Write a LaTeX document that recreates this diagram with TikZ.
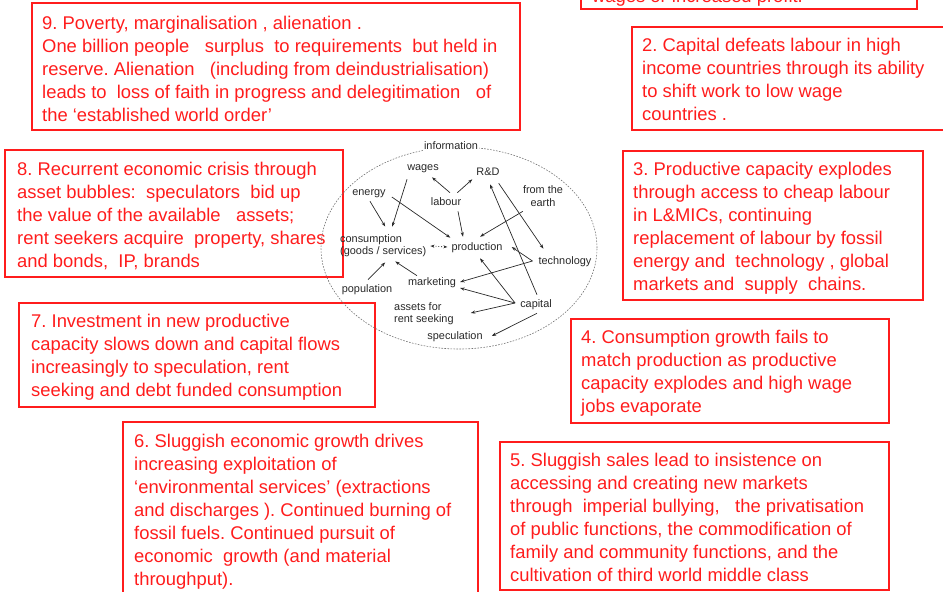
\documentclass[tikz,border=0pt]{standalone}
\usepackage{fontspec}
\setmainfont{Liberation Sans}
\usetikzlibrary{arrows.meta,calc}
\frenchspacing
\definecolor{boxred}{RGB}{255,28,28}
\definecolor{ink}{RGB}{40,40,40}
\tikzset{
  redbox/.style={draw=boxred, line width=1.3pt},
  boxtxt/.style={anchor=north west, inner sep=0pt, text=boxred, align=left,
    font=\fontsize{18.4}{23.1}\selectfont},
  lbl/.style={inner sep=1pt, text=ink, font=\fontsize{10.9}{12.3}\selectfont,
    text height=7.9pt, text depth=2.3pt},
  lbltwo/.style={inner sep=1pt, text=ink, font=\fontsize{10.9}{12.3}\selectfont},
  arr/.style={draw=ink, line width=0.7pt, -{Stealth[length=4.5pt,width=3.2pt]}},
  dotarr/.style={draw=ink, line width=0.8pt, dotted,
    {Stealth[length=4pt,width=3pt]}-{Stealth[length=4pt,width=3pt]}},
  ring/.style={draw=black!55, line width=0.6pt, dash pattern=on 1.6pt off 1.4pt},
}
\newcommand{\fl}{\rule{0pt}{13.4pt}}
\begin{document}
\begin{tikzpicture}[x=1pt,y=-1pt]
\useasboundingbox (0,0) rectangle (943,592);
\clip (0,0) rectangle (943,592);

% ---- red boxes ----
\draw[redbox] (581,-50) rectangle (917,9);
\draw[redbox] (32,3) rectangle (520,130);
\draw[redbox] (632,27) rectangle (960,130);
\draw[redbox] (623,151) rectangle (923,300);
\draw[redbox] (5,150) rectangle (343,277);
\draw[redbox] (19,303) rectangle (375,407);
\draw[redbox] (571,319) rectangle (889,423);
\draw[redbox] (123,422) rectangle (478,620);
\draw[redbox] (500,442) rectangle (889,590);

% ---- box texts ----
\node[boxtxt] (t1) at (592,-11.4) {\fl wages or increased profit.};
\node[boxtxt] (t9) at (42,15.6) {\fl 9. Poverty, marginalisation , alienation .\\
One billion people \ \ surplus \ to requirements \ but held in\\
reserve. Alienation \ \ (including from deindustrialisation)\\
leads to \ loss of faith in progress and delegitimation \ \ of\\
the ‘established world order’};
\node[boxtxt] (t2) at (642,37.6) {\fl 2. Capital defeats labour in high\\
income countries through its ability\\
to shift work to low wage\\
countries .};
\node[boxtxt] (t3) at (633,161.6) {\fl 3. Productive capacity explodes\\
through access to cheap labour\\
in L\&MICs, continuing\\
replacement of labour by fossil\\
energy and \ technology , global\\
markets and \ supply \ chains.};
\node[boxtxt] (t8) at (17,161.6) {\fl 8. Recurrent economic crisis through\\
asset bubbles: \ speculators \ bid up\\
the value of the available \ \ assets;\\
rent seekers acquire \ property, shares\\
and bonds, \ IP, brands};
\node[boxtxt] (t7) at (31,313.6) {\fl 7. Investment in new productive\\
capacity slows down and capital flows\\
increasingly to speculation, rent\\
seeking and debt funded consumption};
\node[boxtxt] (t4) at (581,329.6) {\fl 4. Consumption growth fails to\\
match production as productive\\
capacity explodes and high wage\\
jobs evaporate};
\node[boxtxt] (t6) at (134,433.6) {\fl 6. Sluggish economic growth drives\\
increasing exploitation of\\
‘environmental services’ (extractions\\
and discharges ). Continued burning of\\
fossil fuels. Continued pursuit of\\
economic \ growth (and material\\
throughput).};
\node[boxtxt] (t5) at (510,452.6) {\fl 5. Sluggish sales lead to insistence on\\
accessing and creating new markets\\
through \ imperial bullying, \ \ the privatisation\\
of public functions, the commodification of\\
family and community functions, and the\\
cultivation of third world middle class};

% ---- central diagram ----
\draw[ring] (459,248) ellipse [x radius=138pt, y radius=101pt];

\node[lbl, fill=white] (info) at (451,147) {information};
\node[lbl] (wages) at (423,168) {wages};
\node[lbl] (rd) at (488,173) {R\&D};
\node[lbl] (energy) at (369,193) {energy};
\node[lbl] (labour) at (446,203) {labour};
\node[lbltwo, align=center] (earth) at (543,196) {from the\\earth};
\node[lbltwo, align=left, anchor=west] (cons) at (339,246) {consumption\\(goods / services)};
\node[lbl] (prod) at (477,248) {production};
\node[lbl] (tech) at (565,262) {technology};
\node[lbl] (mkt) at (432,283) {marketing};
\node[lbl] (pop) at (367,290) {population};
\node[lbl] (cap) at (536,305) {capital};
\node[lbltwo, align=left, anchor=west] (assets) at (393,314) {assets for\\rent seeking};
\node[lbl] (spec) at (455,337) {speculation};

% connectors
\draw[arr] ([xshift=1pt,yshift=-2pt]energy.south) -- ([xshift=2pt,yshift=7pt]cons.north);
\draw[arr] ([xshift=1pt,yshift=-5pt]wages.south west) -- ([xshift=9pt,yshift=7pt]cons.north);
\draw[arr] ([xshift=5pt,yshift=-4pt]energy.east) -- ([yshift=4pt]prod.north west);
\draw[arr] ([xshift=4pt,yshift=4pt]labour.north) -- ([xshift=-8pt,yshift=-3pt]wages.south east);
\draw[arr] ([xshift=-5pt,yshift=4pt]labour.north east) -- ([xshift=-3pt]rd.south west);
\draw[arr] ([xshift=12pt,yshift=-2pt]labour.south) -- ([xshift=-14pt,yshift=5pt]prod.north);
\draw[arr] ([xshift=1pt,yshift=-4pt]earth.south west) -- ([xshift=3pt,yshift=5pt]prod.north);
\draw[arr] ([xshift=-2pt,yshift=-4pt]rd.south east) -- ([xshift=6pt,yshift=7pt]tech.north west);
\draw[arr] ([xshift=1pt,yshift=4pt]cap.north) -- ([xshift=2pt,yshift=-5pt]rd.south);
\draw[arr] ([xshift=-5pt,yshift=1pt]tech.west) -- ([xshift=8pt,yshift=1pt]prod.east);
\draw[arr] ([xshift=-5pt,yshift=1pt]tech.west) -- ([xshift=3pt,yshift=1pt]mkt.east);
\draw[arr] ([xshift=-4pt,yshift=2pt]cap.west) -- ([xshift=3pt,yshift=-4pt]prod.south);
\draw[arr] ([xshift=-4pt,yshift=2pt]cap.west) -- ([xshift=3pt,yshift=-5pt]mkt.east);
\draw[arr] ([xshift=-4pt,yshift=2pt]cap.west) -- ([xshift=16pt,yshift=1pt]assets.east);
\draw[arr] ([xshift=1pt,yshift=-2pt]cap.south) -- ([xshift=8pt,yshift=1pt]spec.east);
\draw[arr] ([xshift=1pt,yshift=4pt]pop.north) -- ([xshift=2pt,yshift=-4pt]cons.south);
\draw[arr] ([xshift=-15pt,yshift=1pt]mkt.north) -- ([xshift=12pt,yshift=-3pt]cons.south);
\draw[dotarr] ([xshift=3pt]cons.east) -- ([xshift=-3pt,yshift=1pt]prod.west);
\end{tikzpicture}
\end{document}
